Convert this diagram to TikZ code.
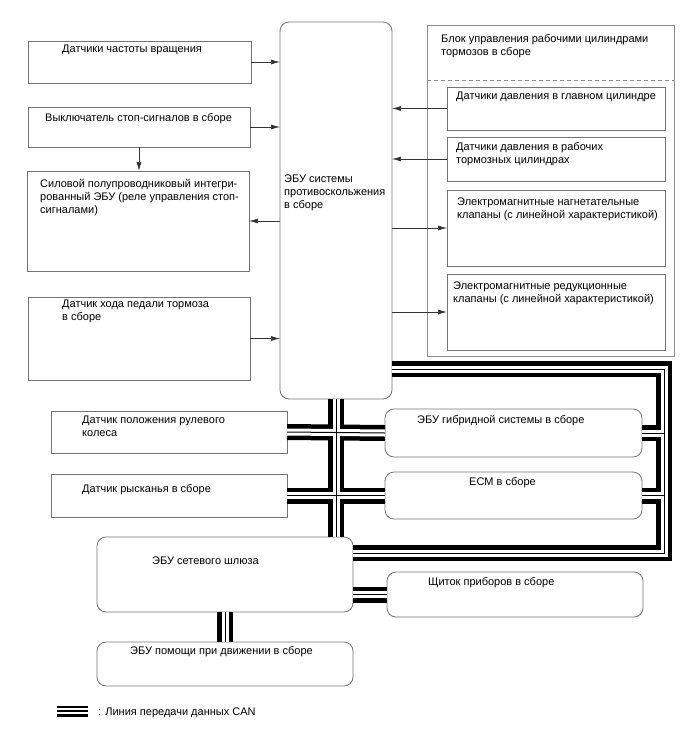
\documentclass[tikz,border=0pt]{standalone}
\usepackage{fontspec}
\setmainfont{Liberation Sans}
\usetikzlibrary{arrows.meta}
\begin{document}
\begin{tikzpicture}[x=1pt,y=-1pt,
  every node/.style={font=\fontsize{11}{13}\selectfont},
  sq/.style={draw=black!55, line width=0.8pt, inner sep=0pt, outer sep=0pt, anchor=north west},
  rnd/.style={sq, rounded corners=9pt},
  lbl/.style={inner sep=0pt, anchor=north west, align=left},
  arr/.style={draw=black!80, line width=0.7pt, -{Latex[length=9pt,width=5pt]}},
  busA/.style={line width=16pt, black},
  busB/.style={line width=7pt, white},
  busC/.style={line width=1pt, black},
  legA/.style={line width=11pt, black},
  legB/.style={line width=5.5pt, white},
  legC/.style={line width=1.4pt, black},
]
\useasboundingbox (0,0) rectangle (688,755);

% ---------- boxes ----------
\node[sq, minimum width=223pt, minimum height=42pt] (b1) at (28,41) {};
\node[sq, minimum width=222pt, minimum height=40pt] (b2) at (28,107) {};
\node[sq, minimum width=222pt, minimum height=100pt] (b3) at (27,171) {};
\node[sq, minimum width=222pt, minimum height=83pt] (b4) at (28,297) {};
\node[rnd, minimum width=112pt, minimum height=377pt] (ecu) at (280,22) {};

\node[sq, draw=black!45, minimum width=247pt, minimum height=331pt] (outer) at (427,25) {};
\node[sq, minimum width=218pt, minimum height=43pt] (ib1) at (447,87) {};
\node[sq, minimum width=218pt, minimum height=44pt] (ib2) at (447,137) {};
\node[sq, minimum width=218pt, minimum height=76pt] (ib3) at (447,190) {};
\node[sq, minimum width=218pt, minimum height=76pt] (ib4) at (447,274) {};

\node[sq, minimum width=236pt, minimum height=42pt] (steer) at (51,411) {};
\node[sq, minimum width=236pt, minimum height=43pt] (yaw) at (51,474) {};
\node[rnd, minimum width=257pt, minimum height=48pt] (hyb) at (385,409) {};
\node[rnd, minimum width=257pt, minimum height=47pt] (ecm) at (385,472) {};
\node[rnd, minimum width=256pt, minimum height=75pt] (gw) at (97,537) {};
\node[rnd, minimum width=256pt, minimum height=45pt] (clu) at (387,572) {};
\node[rnd, minimum width=256pt, minimum height=44pt] (sup) at (97,642) {};

\coordinate (dashY) at (0,80);
\draw[draw=black!45, line width=0.6pt, dash pattern=on 4pt off 3pt]
  (outer.west |- dashY) -- (outer.east |- dashY);

% ---------- labels ----------
\node[lbl] (t1) at (62,45) {Датчики частоты вращения};
\node[lbl] (t2) at (45,113) {Выключатель стоп-сигналов в сборе};
\node[lbl] (t3) at (40,179) {Силовой полупроводниковый интегри-\\рованный ЭБУ (реле управления стоп-\\сигналами)};
\node[lbl] (t4) at (62,300) {Датчик хода педали тормоза\\в сборе};
\node[lbl] (tecu) at (284,175) {ЭБУ системы\\противоскольжения\\в сборе};
\node[lbl] (tout) at (441,34) {Блок управления рабочими цилиндрами\\тормозов в сборе};
\node[lbl] (ti1) at (456,92) {Датчики давления в главном цилиндре};
\node[lbl] (ti2) at (456,142) {Датчики давления в рабочих\\тормозных цилиндрах};
\node[lbl] (ti3) at (457,198) {Электромагнитные нагнетательные\\клапаны (с линейной характеристикой)};
\node[lbl] (ti4) at (453,282) {Электромагнитные редукционные\\клапаны (с линейной характеристикой)};
\node[lbl] (tst) at (82,416) {Датчик положения рулевого\\колеса};
\node[lbl] (tyaw) at (82,484) {Датчик рысканья в сборе};
\node[lbl] (thyb) at (417,415) {ЭБУ гибридной системы в сборе};
\node[lbl] (tecm) at (469,477) {ECM в сборе};
\node[lbl] (tgw) at (152,557) {ЭБУ сетевого шлюза};
\node[lbl] (tclu) at (428,577) {Щиток приборов в сборе};
\node[lbl] (tsup) at (130,646) {ЭБУ помощи при движении в сборе};
\node[lbl] (tleg) at (98,708) {: Линия передачи данных CAN};

% ---------- signal arrows ----------
\draw[arr] (b1.east) -- (b1.east -| ecu.west);
\draw[arr] (b2.east) -- (b2.east -| ecu.west);
\draw[arr] (b2.south -| b2.west) ++(111,0) coordinate (b2s) -- (b2s |- b3.north);
\draw[arr] (b3.east -| ecu.west) -- (b3.east);
\draw[arr] (b4.east) -- (b4.east -| ecu.west);
\draw[arr] (ib1.west) -- (ib1.west -| ecu.east);
\draw[arr] (ib2.west) -- (ib2.west -| ecu.east);
\draw[arr] (ib3.west -| ecu.east) -- (ib3.west);
\draw[arr] (ib4.west -| ecu.east) -- (ib4.west);

% ---------- CAN bus ----------
\coordinate (busTR) at (664,369);
\coordinate (busBR) at (664,553);
\newcommand\canpaths[1]{%
  \draw[#1] (ecu.south) -- (ecu.south |- gw.north);
  \draw[#1] (steer.east) -- (hyb.west);
  \draw[#1] (yaw.east) -- (ecm.west);
  \draw[#1] (ecu.east |- busTR) -- (busTR) -- (busBR) -- (gw.east |- busBR);
  \draw[#1] (hyb.east) -- (hyb.east -| busTR);
  \draw[#1] (ecm.east) -- (ecm.east -| busTR);
  \draw[#1] (gw.east |- clu.west) -- (clu.west);
  \draw[#1] (gw.south) -- (sup.north);
}
\canpaths{busA}
\canpaths{busB}
\canpaths{busC}

% ---------- legend ----------
\coordinate (lgA) at (57,711);
\coordinate (lgB) at (88,711);
\draw[legA] (lgA) -- (lgB);
\draw[legB] (lgA) -- (lgB);
\draw[legC] (lgA) -- (lgB);
\end{tikzpicture}
\end{document}
